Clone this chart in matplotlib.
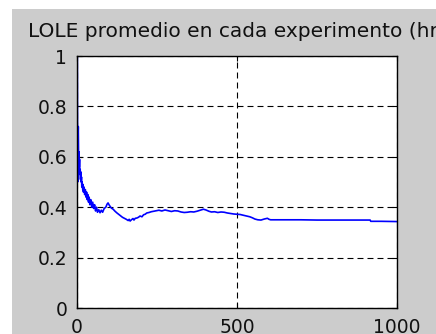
import matplotlib
matplotlib.use("Agg")
import matplotlib.pyplot as plt
from matplotlib.patches import Rectangle

experiments = [1, 2, 3, 4, 5, 6, 7, 8, 9, 10, 11, 12, 13, 14, 15, 16, 18, 19, 20,
               22, 24, 26, 28, 30, 32, 34, 36, 38, 40, 43, 46, 49, 52, 55, 58, 61,
               64, 68, 72, 76, 80, 85, 90, 94, 97, 100, 104, 108, 113, 118, 124,
               130, 136, 142, 148, 154, 160, 163, 166, 170, 175, 178, 182, 187,
               192, 197, 203, 208, 213, 218, 225, 232, 240, 248, 256, 265, 275,
               285, 295, 305, 315, 325, 335, 345, 355, 365, 375, 385, 395, 403,
               412, 420, 430, 440, 450, 460, 470, 480, 490, 500, 510, 520, 530,
               540, 548, 556, 565, 575, 585, 595, 600, 605, 620, 650, 700, 750,
               800, 850, 900, 916, 918, 950, 1000]
lole_avg = [1.0, 0.5, 0.667, 0.72, 0.6, 0.62, 0.56, 0.59, 0.53, 0.55, 0.51, 0.54,
            0.5, 0.52, 0.48, 0.5, 0.47, 0.49, 0.46, 0.48, 0.45, 0.47, 0.44, 0.46,
            0.43, 0.45, 0.42, 0.44, 0.41, 0.43, 0.40, 0.42, 0.395, 0.41, 0.385,
            0.40, 0.38, 0.39, 0.378, 0.388, 0.38, 0.395, 0.40, 0.412, 0.417, 0.41,
            0.402, 0.396, 0.392, 0.385, 0.378, 0.372, 0.366, 0.36, 0.356, 0.352,
            0.347, 0.352, 0.345, 0.35, 0.355, 0.349, 0.356, 0.357, 0.36, 0.365,
            0.362, 0.37, 0.372, 0.377, 0.379, 0.382, 0.384, 0.386, 0.388, 0.385,
            0.389, 0.386, 0.383, 0.386, 0.385, 0.381, 0.379, 0.38, 0.382, 0.381,
            0.384, 0.388, 0.392, 0.389, 0.384, 0.381, 0.382, 0.379, 0.381, 0.38,
            0.377, 0.375, 0.373, 0.372, 0.371, 0.368, 0.365, 0.362, 0.358, 0.353,
            0.35, 0.349, 0.353, 0.356, 0.352, 0.35, 0.35, 0.35, 0.35, 0.349,
            0.349, 0.349, 0.349, 0.349, 0.344, 0.344, 0.343]

xticks = [0, 500, 1000]
yticks = [0, 0.2, 0.4, 0.6, 0.8, 1]
yticklabels = ['0', '0.2', '0.4', '0.6', '0.8', '1']

plt.rcParams['lines.scale_dashes'] = False

fig = plt.figure(figsize=(4.36, 3.34), dpi=100, facecolor='white')
# gray figure area (white strip on top and left in the original)
fig.patches.append(Rectangle((12 / 436, 0), 1, 1 - 9 / 334, transform=fig.transFigure,
                             facecolor='#cccccc', edgecolor='none', zorder=-5))

ax = fig.add_axes([77 / 436, 1 - 308 / 334, 320 / 436, 252 / 334])
ax.set_facecolor('white')
ax.plot(experiments, lole_avg, color='#0000ff', linewidth=1.2)

ax.set_xlim(0, 1000)
ax.set_ylim(0, 1)
ax.set_xticks(xticks)
ax.set_xticklabels([str(t) for t in xticks])
ax.set_yticks(yticks)
ax.set_yticklabels(yticklabels)
ax.tick_params(direction='in', length=3.5, width=0.8, pad=7, labelsize=13.5,
               top=True, right=True, colors='black', labelcolor='#111111')
ax.grid(True, color='black', linestyle=(0, (4.3, 2.9)), linewidth=0.8)
for s in ax.spines.values():
    s.set_linewidth(1.0)
    s.set_color('black')

ax.set_title('LOLE promedio en cada experimento (hr)', fontsize=14.5, pad=13.7,
             color='#111111')

fig.savefig('out.png', dpi=100, facecolor=fig.get_facecolor())
